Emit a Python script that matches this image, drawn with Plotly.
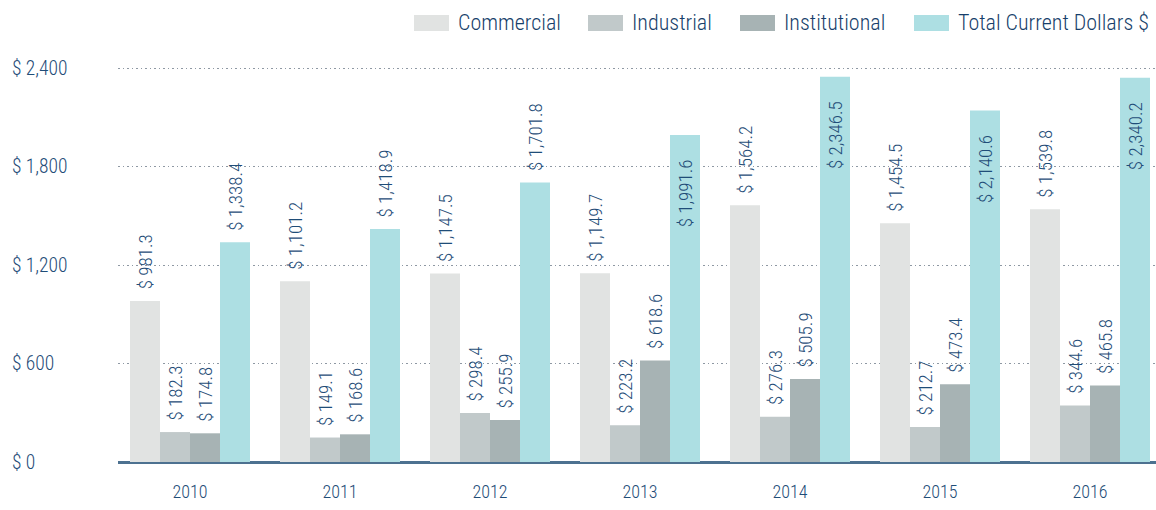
import plotly.graph_objects as go

# Construction value by sector, current dollars (millions)
years = ["2010", "2011", "2012", "2013", "2014", "2015", "2016"]
commercial = [981.3, 1101.2, 1147.5, 1149.7, 1564.2, 1454.5, 1539.8]
industrial = [182.3, 149.1, 298.4, 223.2, 276.3, 212.7, 344.6]
institutional = [174.8, 168.6, 255.9, 618.6, 505.9, 473.4, 465.8]
total_current = [1338.4, 1418.9, 1701.8, 1991.6, 2346.5, 2140.6, 2340.2]

series_names = ["Commercial", "Industrial", "Institutional", "Total Current Dollars $"]
series_values = [commercial, industrial, institutional, total_current]
series_colors = ["#e1e3e2", "#c1c9ca", "#a7b3b4", "#addfe3"]

y_ticks = [0, 600, 1200, 1800, 2400]
y_tick_labels = ["$ 0", "$ 600", "$ 1,200", "$ 1,800", "$ 2,400"]

FONT = "Roboto Condensed, Roboto, Liberation Sans, sans-serif"
INK = "#1f4d78"
LEGEND_INK = "#173f6b"

W, H = 1156, 510
ML, MR, MT, MB = 118, 0, 48, 48
plot_w = W - ML - MR
plot_h = H - MT - MB
cat_px = 150.0
y_px_per_unit = 394.0 / 2400.0
x_lo = -72.0 / cat_px
x_hi = x_lo + plot_w / cat_px
y_hi = plot_h / y_px_per_unit

NB = "\u00a0"


def money(v):
    return "$ {:,.1f}".format(v)


def px_x(px):
    return (px - ML) / plot_w


def px_y(py):
    return (H - MB - py) / plot_h


fig = go.Figure()
for name, vals, color in zip(series_names, series_values, series_colors):
    is_total = name.startswith("Total")
    labels, positions = [], []
    for v in vals:
        if is_total and v > 1900:
            labels.append(money(v) + NB * 5)
            positions.append("inside")
        else:
            labels.append(NB * 2 + money(v))
            positions.append("outside")
    fig.add_trace(go.Bar(
        name=name,
        x=years,
        y=vals,
        marker=dict(color=color, line=dict(width=0)),
        text=labels,
        textposition=positions,
        insidetextanchor="end",
        textangle=-90,
        constraintext="none",
        cliponaxis=False,
        textfont=dict(family=FONT, size=19, color=INK, weight=300),
        showlegend=False,
    ))

# Left-aligned y tick labels
for v, lab in zip(y_ticks, y_tick_labels):
    fig.add_annotation(
        x=px_x(10), xref="paper", xanchor="left",
        y=v, yref="y", yanchor="middle",
        text=lab, showarrow=False,
        font=dict(family=FONT, size=19.5, color=INK, weight=300),
    )

# Legend row across the top
legend_swatch_x = [414, 588, 740, 914]
for name, color, sx in zip(series_names, series_colors, legend_swatch_x):
    fig.add_shape(
        type="rect", xref="paper", yref="paper",
        x0=px_x(sx), x1=px_x(sx + 35),
        y0=px_y(31), y1=px_y(15),
        fillcolor=color, line=dict(width=0),
    )
    fig.add_annotation(
        x=px_x(sx + 42), xref="paper", xanchor="left",
        y=px_y(23), yref="paper", yanchor="middle",
        text=name, showarrow=False,
        font=dict(family=FONT, size=22, color=LEGEND_INK, weight=300),
    )

fig.update_layout(
    width=W, height=H,
    margin=dict(l=ML, r=MR, t=MT, b=MB),
    paper_bgcolor="white", plot_bgcolor="white",
    barmode="group", bargap=0.2, bargroupgap=0,
    xaxis=dict(
        type="category", range=[x_lo, x_hi],
        showgrid=False, ticks="", zeroline=False,
        showline=False,
        tickfont=dict(family=FONT, size=18, color=INK, weight=300),
        ticklabelstandoff=17,
    ),
    yaxis=dict(
        range=[0, y_hi], tickvals=y_ticks, showticklabels=False,
        showgrid=True, gridcolor="#8e98a3", griddash="1.5px,3px", gridwidth=1,
        zeroline=True, zerolinecolor="#4d7190", zerolinewidth=2.5,
        showline=False, ticks="",
    ),
)

fig.write_html("out.html")
